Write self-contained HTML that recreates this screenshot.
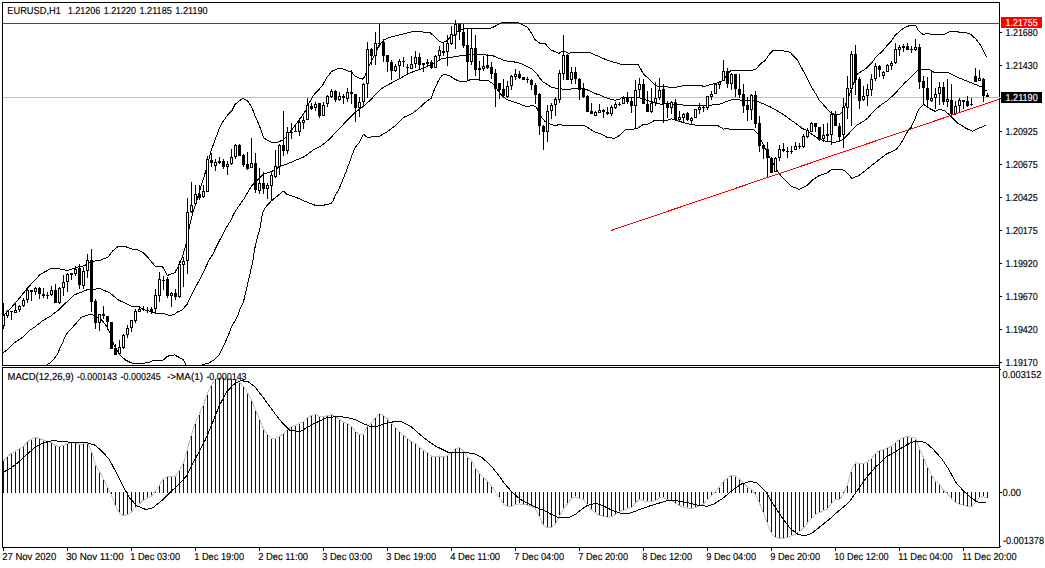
<!DOCTYPE html><html><head><meta charset="utf-8"><title>EURUSD,H1</title>
<style>html,body{margin:0;padding:0;background:#fff;overflow:hidden}svg{display:block}text{font-family:"Liberation Sans",sans-serif;font-size:10.2px;text-rendering:geometricPrecision}</style></head><body>
<svg width="1045" height="568" viewBox="0 0 1045 568" shape-rendering="crispEdges">
<rect x="0" y="0" width="1045" height="568" fill="#fff"/>
<rect x="3" y="97" width="997" height="1" fill="#c0c0c0"/>
<rect x="3" y="23" width="996" height="1" fill="#ff0000"/>
<g id="bands">
<polyline points="3.0,316.0 6.3,312.7 10.0,309.0 15.8,302.6 27.7,287.8 40.0,274.6 51.8,268.0 60.0,269.0 67.6,270.4 75.5,267.7 84.5,265.6 92.0,261.6 100.8,260.1 108.2,256.9 112.5,251.1 117.8,246.7 125.1,246.4 131.5,249.0 136.8,249.5 142.6,252.2 148.4,258.0 155.3,266.4 162.1,266.4 164.2,269.1 167.4,275.4 174.8,272.8 178.0,267.0 182.2,257.5 185.8,245.4 189.0,228.5 193.2,211.6 196.9,200.0 199.3,191.8 205.6,171.7 210.9,151.6 213.2,145.0 219.0,129.4 222.7,122.0 227.5,115.1 232.2,110.4 234.9,104.5 242.8,98.2 247.5,100.8 251.8,107.2 254.9,115.6 259.2,125.1 263.4,137.3 266.9,140.0 271.8,142.6 276.1,142.6 283.5,139.9 287.7,134.7 293.0,128.3 299.3,119.9 305.7,110.4 309.1,103.0 314.4,94.0 320.7,87.6 322.8,85.0 326.3,78.2 331.6,71.4 339.0,68.2 344.3,69.3 351.7,72.4 355.9,76.7 362.3,79.1 364.4,77.2 366.5,71.9 369.7,64.5 372.8,58.2 379.0,45.6 383.3,40.4 388.6,37.7 403.4,34.0 414.0,31.1 421.4,31.1 423.5,32.4 429.8,32.4 434.0,36.1 439.3,41.4 442.5,42.7 446.7,40.9 451.1,36.1 454.3,35.1 458.0,31.0 463.8,28.9 488.1,28.9 493.4,27.1 501.8,22.6 517.7,22.6 521.9,24.3 527.2,27.1 531.4,33.0 534.6,39.3 540.0,43.5 545.3,43.8 550.6,49.8 559.0,53.3 563.2,50.9 568.5,53.3 573.8,52.3 589.7,52.5 598.1,56.2 607.6,60.4 622.4,64.6 638.3,64.6 643.5,74.1 650.0,79.9 655.6,85.8 661.4,86.7 670.0,87.1 675.8,87.2 686.4,85.1 701.2,85.1 703.3,86.7 710.7,84.5 717.0,83.0 722.3,80.8 729.4,72.1 731.4,70.2 752.7,70.2 755.8,69.3 761.2,63.2 765.1,60.5 769.7,53.9 772.8,50.8 774.4,50.1 780.0,50.1 790.0,52.2 797.4,60.1 803.7,71.7 811.1,86.5 816.4,94.9 818.5,99.2 822.3,103.5 830.7,113.0 834.9,114.5 840.2,114.0 842.3,111.4 845.5,105.0 851.0,90.0 857.6,73.8 866.1,68.5 872.4,62.2 875.6,57.4 883.0,50.6 887.2,45.3 891.3,41.1 895.6,34.8 903.0,28.5 910.4,25.1 915.6,25.1 918.8,31.1 923.0,34.3 929.4,33.5 931.5,34.6 944.2,34.3 950.5,31.1 957.9,31.1 959.0,32.5 966.4,32.7 970.6,34.3 975.9,39.0 981.1,45.9 986.4,57.0" fill="none" stroke="#000" stroke-width="1" />
<polyline points="3.2,352.6 6.3,350.5 13.7,343.2 22.1,337.6 29.5,330.5 34.9,327.0 42.1,321.0 50.6,316.1 57.9,310.5 64.4,304.0 68.7,300.6 74.0,295.0 85.6,290.5 87.7,289.4 100.4,288.8 110.0,293.0 118.5,300.0 132.3,306.5 138.6,306.5 143.0,309.4 147.0,310.4 151.0,311.4 155.4,313.2 164.0,313.5 169.2,315.6 174.5,314.3 177.5,312.0 182.0,310.0 184.9,306.8 187.2,304.2 189.2,299.4 193.4,290.9 198.7,281.4 204.0,270.8 209.1,260.0 212.4,255.0 217.5,244.4 227.0,226.4 230.0,221.8 234.4,212.7 240.6,203.5 244.2,198.5 251.1,186.5 253.2,184.5 258.5,179.0 263.7,174.0 272.2,171.2 280.6,166.2 285.0,164.8 296.4,160.0 303.8,156.9 312.3,150.6 320.7,146.0 325.0,143.0 329.0,139.5 337.6,130.4 346.1,121.5 354.5,113.0 363.0,106.7 371.4,99.3 372.8,97.3 381.3,88.8 385.5,86.2 399.2,78.8 407.6,74.2 409.8,73.0 422.4,68.5 430.0,65.0 438.4,61.0 441.5,58.7 451.1,57.3 464.9,55.1 477.5,54.3 492.3,55.5 504.9,60.8 514.5,62.0 518.7,62.9 521.9,64.1 529.3,67.8 531.4,68.7 536.7,73.6 540.0,78.4 543.0,81.9 547.4,84.5 551.4,87.2 557.8,88.6 566.3,89.5 579.0,88.2 586.4,89.5 595.9,93.8 599.8,95.0 605.4,97.7 614.9,100.2 620.0,99.2 621.3,98.0 627.6,97.3 634.0,97.3 640.3,98.0 647.7,100.6 655.1,102.8 660.0,104.1 670.0,103.8 678.0,104.6 690.6,105.7 705.4,105.7 720.2,104.1 727.6,101.1 735.0,99.0 742.4,100.4 755.1,100.4 770.0,106.7 780.0,112.4 784.0,115.0 790.6,119.8 800.0,126.5 801.1,127.8 807.5,130.9 811.7,134.1 819.0,139.0 826.5,141.5 834.9,142.4 841.3,140.4 845.0,137.5 848.2,134.5 851.5,130.3 856.3,125.6 862.4,121.9 867.7,118.2 874.0,110.8 881.4,104.5 888.3,100.0 890.0,98.2 895.0,93.5 900.0,88.1 905.6,81.9 908.2,80.0 916.7,71.3 920.6,69.2 928.6,69.2 933.8,72.2 948.0,72.4 958.6,77.7 969.0,81.9 982.7,87.4 984.3,90.4 986.9,90.4" fill="none" stroke="#000" stroke-width="1" />
<polyline points="46.8,365.0 51.6,361.8 56.8,355.3 62.1,343.7 66.3,334.2 70.5,329.5 75.8,323.7 81.1,317.4 84.2,316.3 90.5,314.2 93.7,315.3 101.1,319.5 105.5,324.5 110.0,333.0 114.4,345.8 120.0,355.2 125.8,360.2 131.6,363.0 143.0,363.5 148.8,362.3 154.5,360.2 160.3,360.9 163.9,359.5 167.5,356.2 174.6,354.9 179.0,357.3 183.2,359.5 186.1,365.0" fill="none" stroke="#000" stroke-width="1" />
<polyline points="201.9,365.0 209.0,363.0 214.8,359.5 219.1,355.2 224.9,343.0 229.2,333.0 232.0,325.7 235.6,320.0 238.0,315.0 240.1,308.9 243.3,302.5 246.5,288.8 249.7,275.1 252.8,261.3 254.5,249.7 257.7,235.9 259.6,230.0 260.9,223.2 261.7,217.5 263.5,210.6 267.0,205.4 271.7,200.6 277.5,195.9 283.4,191.1 287.0,194.3 297.6,198.0 307.1,202.2 315.6,205.4 323.0,205.4 331.4,203.3 333.4,200.0 335.6,194.8 338.7,189.7 344.0,177.0 349.2,163.2 354.5,148.5 357.2,145.0 359.2,142.5 363.5,134.3 367.2,137.3 379.3,136.4 386.7,132.0 394.1,126.7 404.1,117.2 413.1,113.0 418.4,108.7 424.7,102.9 431.1,98.2 434.0,90.6 438.2,81.1 441.9,75.3 444.5,74.3 449.8,75.8 455.1,79.5 459.3,81.1 466.9,81.2 471.1,79.3 479.6,80.1 488.0,80.4 493.3,84.1 497.5,89.9 502.8,96.7 507.6,99.9 517.6,103.1 526.1,106.6 533.2,105.6 536.4,107.2 540.6,116.1 544.9,121.4 550.1,124.1 555.4,125.6 560.7,124.1 562.8,125.6 584.0,125.4 588.2,127.8 593.5,131.4 600.9,134.1 607.2,137.3 614.6,138.3 620.0,135.1 625.0,130.0 637.1,128.6 643.5,124.4 646.6,124.9 654.0,120.7 663.5,120.7 666.3,120.5 671.6,118.9 676.9,120.8 690.6,124.4 697.4,125.4 717.5,125.4 723.8,129.3 725.9,128.2 730.1,129.3 753.4,129.3 757.6,133.5 761.8,141.4 766.1,149.9 770.3,158.3 777.8,172.0 784.1,179.4 791.5,186.2 798.9,189.4 807.3,185.2 812.6,179.9 819.0,175.7 827.4,173.0 831.6,169.3 841.1,169.3 845.0,171.0 849.2,175.2 851.9,178.4 858.7,175.7 866.1,169.9 876.7,161.5 887.3,153.5 895.7,149.8 899.9,145.1 904.2,137.7 907.3,131.9 911.1,127.3 915.4,117.8 918.5,109.3 923.8,104.5 930.1,108.8 935.4,111.4 939.7,109.1 944.9,110.9 950.2,115.6 957.6,123.0 966.1,128.3 972.4,131.3 979.8,127.8 986.1,125.1" fill="none" stroke="#000" stroke-width="1" />
</g>
<g id="candles">
<rect x="3" y="303" width="1" height="26" fill="#000"/>
<rect x="2" y="315" width="3" height="11" fill="#000"/>
<rect x="3" y="316" width="1" height="9" fill="#fff"/>
<rect x="7" y="310" width="1" height="8" fill="#000"/>
<rect x="6" y="311" width="3" height="5" fill="#000"/>
<rect x="7" y="312" width="1" height="3" fill="#fff"/>
<rect x="11" y="311" width="1" height="9" fill="#000"/>
<rect x="10" y="311" width="3" height="1" fill="#000"/>
<rect x="15" y="302" width="1" height="11" fill="#000"/>
<rect x="14" y="310" width="3" height="3" fill="#000"/>
<rect x="15" y="311" width="1" height="1" fill="#fff"/>
<rect x="19" y="305" width="1" height="7" fill="#000"/>
<rect x="18" y="306" width="3" height="4" fill="#000"/>
<rect x="19" y="307" width="1" height="2" fill="#fff"/>
<rect x="23" y="298" width="1" height="9" fill="#000"/>
<rect x="22" y="300" width="3" height="6" fill="#000"/>
<rect x="23" y="301" width="1" height="4" fill="#fff"/>
<rect x="27" y="287" width="1" height="16" fill="#000"/>
<rect x="26" y="290" width="3" height="10" fill="#000"/>
<rect x="27" y="291" width="1" height="8" fill="#fff"/>
<rect x="31" y="290" width="1" height="11" fill="#000"/>
<rect x="30" y="290" width="3" height="2" fill="#000"/>
<rect x="35" y="287" width="1" height="8" fill="#000"/>
<rect x="34" y="288" width="3" height="4" fill="#000"/>
<rect x="35" y="289" width="1" height="2" fill="#fff"/>
<rect x="39" y="287" width="1" height="12" fill="#000"/>
<rect x="38" y="288" width="3" height="6" fill="#000"/>
<rect x="43" y="288" width="1" height="10" fill="#000"/>
<rect x="42" y="294" width="3" height="2" fill="#000"/>
<rect x="47" y="292" width="1" height="7" fill="#000"/>
<rect x="46" y="295" width="3" height="1" fill="#000"/>
<rect x="51" y="286" width="1" height="10" fill="#000"/>
<rect x="50" y="290" width="3" height="5" fill="#000"/>
<rect x="51" y="291" width="1" height="3" fill="#fff"/>
<rect x="55" y="284" width="1" height="19" fill="#000"/>
<rect x="54" y="290" width="3" height="13" fill="#000"/>
<rect x="59" y="287" width="1" height="17" fill="#000"/>
<rect x="58" y="288" width="3" height="15" fill="#000"/>
<rect x="59" y="289" width="1" height="13" fill="#fff"/>
<rect x="63" y="275" width="1" height="21" fill="#000"/>
<rect x="62" y="282" width="3" height="6" fill="#000"/>
<rect x="63" y="283" width="1" height="4" fill="#fff"/>
<rect x="67" y="273" width="1" height="19" fill="#000"/>
<rect x="66" y="274" width="3" height="8" fill="#000"/>
<rect x="67" y="275" width="1" height="6" fill="#fff"/>
<rect x="71" y="273" width="1" height="7" fill="#000"/>
<rect x="70" y="273" width="3" height="2" fill="#000"/>
<rect x="75" y="266" width="1" height="10" fill="#000"/>
<rect x="74" y="269" width="3" height="5" fill="#000"/>
<rect x="75" y="270" width="1" height="3" fill="#fff"/>
<rect x="79" y="264" width="1" height="25" fill="#000"/>
<rect x="78" y="268" width="3" height="17" fill="#000"/>
<rect x="83" y="267" width="1" height="22" fill="#000"/>
<rect x="82" y="271" width="3" height="15" fill="#000"/>
<rect x="83" y="272" width="1" height="13" fill="#fff"/>
<rect x="87" y="254" width="1" height="24" fill="#000"/>
<rect x="86" y="260" width="3" height="11" fill="#000"/>
<rect x="87" y="261" width="1" height="9" fill="#fff"/>
<rect x="91" y="249" width="1" height="63" fill="#000"/>
<rect x="90" y="260" width="3" height="42" fill="#000"/>
<rect x="95" y="299" width="1" height="30" fill="#000"/>
<rect x="94" y="301" width="3" height="22" fill="#000"/>
<rect x="99" y="314" width="1" height="17" fill="#000"/>
<rect x="98" y="314" width="3" height="9" fill="#000"/>
<rect x="99" y="315" width="1" height="7" fill="#fff"/>
<rect x="103" y="306" width="1" height="13" fill="#000"/>
<rect x="102" y="314" width="3" height="2" fill="#000"/>
<rect x="107" y="316" width="1" height="14" fill="#000"/>
<rect x="106" y="316" width="3" height="6" fill="#000"/>
<rect x="111" y="322" width="1" height="27" fill="#000"/>
<rect x="110" y="322" width="3" height="27" fill="#000"/>
<rect x="115" y="344" width="1" height="11" fill="#000"/>
<rect x="114" y="348" width="3" height="7" fill="#000"/>
<rect x="119" y="340" width="1" height="14" fill="#000"/>
<rect x="118" y="347" width="3" height="7" fill="#000"/>
<rect x="119" y="348" width="1" height="5" fill="#fff"/>
<rect x="123" y="334" width="1" height="15" fill="#000"/>
<rect x="122" y="335" width="3" height="13" fill="#000"/>
<rect x="123" y="336" width="1" height="11" fill="#fff"/>
<rect x="127" y="325" width="1" height="13" fill="#000"/>
<rect x="126" y="328" width="3" height="7" fill="#000"/>
<rect x="127" y="329" width="1" height="5" fill="#fff"/>
<rect x="131" y="320" width="1" height="12" fill="#000"/>
<rect x="130" y="320" width="3" height="8" fill="#000"/>
<rect x="131" y="321" width="1" height="6" fill="#fff"/>
<rect x="135" y="309" width="1" height="14" fill="#000"/>
<rect x="134" y="311" width="3" height="10" fill="#000"/>
<rect x="135" y="312" width="1" height="8" fill="#fff"/>
<rect x="139" y="306" width="1" height="6" fill="#000"/>
<rect x="138" y="309" width="3" height="3" fill="#000"/>
<rect x="139" y="310" width="1" height="1" fill="#fff"/>
<rect x="143" y="306" width="1" height="5" fill="#000"/>
<rect x="142" y="309" width="3" height="1" fill="#000"/>
<rect x="147" y="307" width="1" height="6" fill="#000"/>
<rect x="146" y="310" width="3" height="1" fill="#000"/>
<rect x="151" y="307" width="1" height="7" fill="#000"/>
<rect x="150" y="309" width="3" height="2" fill="#000"/>
<rect x="155" y="289" width="1" height="25" fill="#000"/>
<rect x="154" y="295" width="3" height="14" fill="#000"/>
<rect x="155" y="296" width="1" height="12" fill="#fff"/>
<rect x="159" y="272" width="1" height="30" fill="#000"/>
<rect x="158" y="279" width="3" height="17" fill="#000"/>
<rect x="159" y="280" width="1" height="15" fill="#fff"/>
<rect x="163" y="276" width="1" height="14" fill="#000"/>
<rect x="162" y="280" width="3" height="1" fill="#000"/>
<rect x="167" y="277" width="1" height="21" fill="#000"/>
<rect x="166" y="279" width="3" height="17" fill="#000"/>
<rect x="171" y="292" width="1" height="15" fill="#000"/>
<rect x="170" y="293" width="3" height="3" fill="#000"/>
<rect x="171" y="294" width="1" height="1" fill="#fff"/>
<rect x="175" y="289" width="1" height="11" fill="#000"/>
<rect x="174" y="293" width="3" height="4" fill="#000"/>
<rect x="179" y="261" width="1" height="37" fill="#000"/>
<rect x="178" y="264" width="3" height="33" fill="#000"/>
<rect x="179" y="265" width="1" height="31" fill="#fff"/>
<rect x="183" y="257" width="1" height="30" fill="#000"/>
<rect x="182" y="261" width="3" height="4" fill="#000"/>
<rect x="183" y="262" width="1" height="2" fill="#fff"/>
<rect x="187" y="198" width="1" height="76" fill="#000"/>
<rect x="186" y="212" width="3" height="49" fill="#000"/>
<rect x="187" y="213" width="1" height="47" fill="#fff"/>
<rect x="191" y="182" width="1" height="31" fill="#000"/>
<rect x="190" y="205" width="3" height="7" fill="#000"/>
<rect x="191" y="206" width="1" height="5" fill="#fff"/>
<rect x="195" y="185" width="1" height="20" fill="#000"/>
<rect x="194" y="194" width="3" height="10" fill="#000"/>
<rect x="195" y="195" width="1" height="8" fill="#fff"/>
<rect x="199" y="185" width="1" height="15" fill="#000"/>
<rect x="198" y="194" width="3" height="4" fill="#000"/>
<rect x="203" y="185" width="1" height="13" fill="#000"/>
<rect x="202" y="191" width="3" height="6" fill="#000"/>
<rect x="203" y="192" width="1" height="4" fill="#fff"/>
<rect x="207" y="156" width="1" height="36" fill="#000"/>
<rect x="206" y="159" width="3" height="33" fill="#000"/>
<rect x="207" y="160" width="1" height="31" fill="#fff"/>
<rect x="211" y="153" width="1" height="14" fill="#000"/>
<rect x="210" y="160" width="3" height="3" fill="#000"/>
<rect x="215" y="159" width="1" height="12" fill="#000"/>
<rect x="214" y="162" width="3" height="4" fill="#000"/>
<rect x="215" y="163" width="1" height="2" fill="#fff"/>
<rect x="219" y="157" width="1" height="7" fill="#000"/>
<rect x="218" y="161" width="3" height="2" fill="#000"/>
<rect x="223" y="159" width="1" height="10" fill="#000"/>
<rect x="222" y="161" width="3" height="6" fill="#000"/>
<rect x="227" y="161" width="1" height="14" fill="#000"/>
<rect x="226" y="164" width="3" height="3" fill="#000"/>
<rect x="227" y="165" width="1" height="1" fill="#fff"/>
<rect x="231" y="149" width="1" height="16" fill="#000"/>
<rect x="230" y="157" width="3" height="7" fill="#000"/>
<rect x="231" y="158" width="1" height="5" fill="#fff"/>
<rect x="235" y="144" width="1" height="15" fill="#000"/>
<rect x="234" y="145" width="3" height="12" fill="#000"/>
<rect x="235" y="146" width="1" height="10" fill="#fff"/>
<rect x="239" y="144" width="1" height="12" fill="#000"/>
<rect x="238" y="145" width="3" height="11" fill="#000"/>
<rect x="243" y="154" width="1" height="13" fill="#000"/>
<rect x="242" y="155" width="3" height="10" fill="#000"/>
<rect x="247" y="152" width="1" height="18" fill="#000"/>
<rect x="246" y="164" width="3" height="5" fill="#000"/>
<rect x="251" y="138" width="1" height="30" fill="#000"/>
<rect x="250" y="163" width="3" height="5" fill="#000"/>
<rect x="251" y="164" width="1" height="3" fill="#fff"/>
<rect x="255" y="153" width="1" height="40" fill="#000"/>
<rect x="254" y="163" width="3" height="27" fill="#000"/>
<rect x="259" y="168" width="1" height="26" fill="#000"/>
<rect x="258" y="183" width="3" height="8" fill="#000"/>
<rect x="259" y="184" width="1" height="6" fill="#fff"/>
<rect x="263" y="172" width="1" height="22" fill="#000"/>
<rect x="262" y="183" width="3" height="6" fill="#000"/>
<rect x="267" y="183" width="1" height="16" fill="#000"/>
<rect x="266" y="185" width="3" height="4" fill="#000"/>
<rect x="267" y="186" width="1" height="2" fill="#fff"/>
<rect x="271" y="171" width="1" height="30" fill="#000"/>
<rect x="270" y="175" width="3" height="11" fill="#000"/>
<rect x="271" y="176" width="1" height="9" fill="#fff"/>
<rect x="275" y="150" width="1" height="28" fill="#000"/>
<rect x="274" y="166" width="3" height="11" fill="#000"/>
<rect x="275" y="167" width="1" height="9" fill="#fff"/>
<rect x="279" y="144" width="1" height="31" fill="#000"/>
<rect x="278" y="145" width="3" height="22" fill="#000"/>
<rect x="279" y="146" width="1" height="20" fill="#fff"/>
<rect x="283" y="111" width="1" height="45" fill="#000"/>
<rect x="282" y="145" width="3" height="6" fill="#000"/>
<rect x="287" y="127" width="1" height="27" fill="#000"/>
<rect x="286" y="132" width="3" height="19" fill="#000"/>
<rect x="287" y="133" width="1" height="17" fill="#fff"/>
<rect x="291" y="123" width="1" height="16" fill="#000"/>
<rect x="290" y="132" width="3" height="1" fill="#000"/>
<rect x="295" y="125" width="1" height="7" fill="#000"/>
<rect x="294" y="131" width="3" height="1" fill="#000"/>
<rect x="299" y="118" width="1" height="18" fill="#000"/>
<rect x="298" y="122" width="3" height="10" fill="#000"/>
<rect x="299" y="123" width="1" height="8" fill="#fff"/>
<rect x="303" y="116" width="1" height="13" fill="#000"/>
<rect x="302" y="120" width="3" height="3" fill="#000"/>
<rect x="303" y="121" width="1" height="1" fill="#fff"/>
<rect x="307" y="98" width="1" height="22" fill="#000"/>
<rect x="306" y="105" width="3" height="15" fill="#000"/>
<rect x="307" y="106" width="1" height="13" fill="#fff"/>
<rect x="311" y="103" width="1" height="7" fill="#000"/>
<rect x="310" y="106" width="3" height="3" fill="#000"/>
<rect x="315" y="102" width="1" height="9" fill="#000"/>
<rect x="314" y="104" width="3" height="4" fill="#000"/>
<rect x="315" y="105" width="1" height="2" fill="#fff"/>
<rect x="319" y="103" width="1" height="15" fill="#000"/>
<rect x="318" y="103" width="3" height="13" fill="#000"/>
<rect x="323" y="102" width="1" height="14" fill="#000"/>
<rect x="322" y="105" width="3" height="11" fill="#000"/>
<rect x="323" y="106" width="1" height="9" fill="#fff"/>
<rect x="327" y="95" width="1" height="12" fill="#000"/>
<rect x="326" y="96" width="3" height="8" fill="#000"/>
<rect x="327" y="97" width="1" height="6" fill="#fff"/>
<rect x="331" y="89" width="1" height="9" fill="#000"/>
<rect x="330" y="91" width="3" height="6" fill="#000"/>
<rect x="331" y="92" width="1" height="4" fill="#fff"/>
<rect x="335" y="90" width="1" height="12" fill="#000"/>
<rect x="334" y="91" width="3" height="9" fill="#000"/>
<rect x="339" y="92" width="1" height="9" fill="#000"/>
<rect x="338" y="96" width="3" height="4" fill="#000"/>
<rect x="339" y="97" width="1" height="2" fill="#fff"/>
<rect x="343" y="94" width="1" height="10" fill="#000"/>
<rect x="342" y="96" width="3" height="2" fill="#000"/>
<rect x="347" y="88" width="1" height="14" fill="#000"/>
<rect x="346" y="92" width="3" height="7" fill="#000"/>
<rect x="347" y="93" width="1" height="5" fill="#fff"/>
<rect x="351" y="70" width="1" height="34" fill="#000"/>
<rect x="350" y="92" width="3" height="2" fill="#000"/>
<rect x="355" y="94" width="1" height="28" fill="#000"/>
<rect x="354" y="94" width="3" height="14" fill="#000"/>
<rect x="359" y="97" width="1" height="20" fill="#000"/>
<rect x="358" y="102" width="3" height="6" fill="#000"/>
<rect x="359" y="103" width="1" height="4" fill="#fff"/>
<rect x="363" y="83" width="1" height="24" fill="#000"/>
<rect x="362" y="84" width="3" height="18" fill="#000"/>
<rect x="363" y="85" width="1" height="16" fill="#fff"/>
<rect x="367" y="42" width="1" height="56" fill="#000"/>
<rect x="366" y="49" width="3" height="35" fill="#000"/>
<rect x="367" y="50" width="1" height="33" fill="#fff"/>
<rect x="371" y="48" width="1" height="17" fill="#000"/>
<rect x="370" y="49" width="3" height="7" fill="#000"/>
<rect x="375" y="32" width="1" height="33" fill="#000"/>
<rect x="374" y="43" width="3" height="13" fill="#000"/>
<rect x="375" y="44" width="1" height="11" fill="#fff"/>
<rect x="379" y="24" width="1" height="23" fill="#000"/>
<rect x="378" y="43" width="3" height="1" fill="#000"/>
<rect x="383" y="39" width="1" height="23" fill="#000"/>
<rect x="382" y="42" width="3" height="14" fill="#000"/>
<rect x="387" y="55" width="1" height="17" fill="#000"/>
<rect x="386" y="55" width="3" height="7" fill="#000"/>
<rect x="391" y="60" width="1" height="20" fill="#000"/>
<rect x="390" y="62" width="3" height="9" fill="#000"/>
<rect x="395" y="64" width="1" height="8" fill="#000"/>
<rect x="394" y="66" width="3" height="5" fill="#000"/>
<rect x="395" y="67" width="1" height="3" fill="#fff"/>
<rect x="399" y="59" width="1" height="19" fill="#000"/>
<rect x="398" y="61" width="3" height="5" fill="#000"/>
<rect x="399" y="62" width="1" height="3" fill="#fff"/>
<rect x="403" y="57" width="1" height="10" fill="#000"/>
<rect x="402" y="61" width="3" height="1" fill="#000"/>
<rect x="407" y="64" width="1" height="10" fill="#000"/>
<rect x="406" y="67" width="3" height="1" fill="#000"/>
<rect x="411" y="56" width="1" height="13" fill="#000"/>
<rect x="410" y="64" width="3" height="5" fill="#000"/>
<rect x="411" y="65" width="1" height="3" fill="#fff"/>
<rect x="415" y="51" width="1" height="17" fill="#000"/>
<rect x="414" y="57" width="3" height="7" fill="#000"/>
<rect x="415" y="58" width="1" height="5" fill="#fff"/>
<rect x="419" y="53" width="1" height="16" fill="#000"/>
<rect x="418" y="57" width="3" height="8" fill="#000"/>
<rect x="423" y="63" width="1" height="9" fill="#000"/>
<rect x="422" y="63" width="3" height="2" fill="#000"/>
<rect x="427" y="59" width="1" height="8" fill="#000"/>
<rect x="426" y="62" width="3" height="2" fill="#000"/>
<rect x="431" y="60" width="1" height="9" fill="#000"/>
<rect x="430" y="62" width="3" height="6" fill="#000"/>
<rect x="435" y="55" width="1" height="13" fill="#000"/>
<rect x="434" y="56" width="3" height="12" fill="#000"/>
<rect x="435" y="57" width="1" height="10" fill="#fff"/>
<rect x="439" y="46" width="1" height="14" fill="#000"/>
<rect x="438" y="50" width="3" height="6" fill="#000"/>
<rect x="439" y="51" width="1" height="4" fill="#fff"/>
<rect x="443" y="43" width="1" height="13" fill="#000"/>
<rect x="442" y="51" width="3" height="2" fill="#000"/>
<rect x="447" y="35" width="1" height="31" fill="#000"/>
<rect x="446" y="43" width="3" height="9" fill="#000"/>
<rect x="447" y="44" width="1" height="7" fill="#fff"/>
<rect x="451" y="26" width="1" height="19" fill="#000"/>
<rect x="450" y="34" width="3" height="10" fill="#000"/>
<rect x="451" y="35" width="1" height="8" fill="#fff"/>
<rect x="455" y="20" width="1" height="29" fill="#000"/>
<rect x="454" y="24" width="3" height="11" fill="#000"/>
<rect x="455" y="25" width="1" height="9" fill="#fff"/>
<rect x="459" y="23" width="1" height="17" fill="#000"/>
<rect x="458" y="24" width="3" height="8" fill="#000"/>
<rect x="463" y="24" width="1" height="24" fill="#000"/>
<rect x="462" y="32" width="3" height="14" fill="#000"/>
<rect x="467" y="29" width="1" height="52" fill="#000"/>
<rect x="466" y="45" width="3" height="17" fill="#000"/>
<rect x="471" y="28" width="1" height="37" fill="#000"/>
<rect x="470" y="48" width="3" height="14" fill="#000"/>
<rect x="471" y="49" width="1" height="12" fill="#fff"/>
<rect x="475" y="35" width="1" height="41" fill="#000"/>
<rect x="474" y="48" width="3" height="22" fill="#000"/>
<rect x="479" y="61" width="1" height="19" fill="#000"/>
<rect x="478" y="68" width="3" height="2" fill="#000"/>
<rect x="483" y="56" width="1" height="15" fill="#000"/>
<rect x="482" y="66" width="3" height="3" fill="#000"/>
<rect x="483" y="67" width="1" height="1" fill="#fff"/>
<rect x="487" y="54" width="1" height="15" fill="#000"/>
<rect x="486" y="65" width="3" height="3" fill="#000"/>
<rect x="491" y="62" width="1" height="17" fill="#000"/>
<rect x="490" y="67" width="3" height="7" fill="#000"/>
<rect x="495" y="69" width="1" height="38" fill="#000"/>
<rect x="494" y="73" width="3" height="16" fill="#000"/>
<rect x="499" y="83" width="1" height="16" fill="#000"/>
<rect x="498" y="83" width="3" height="7" fill="#000"/>
<rect x="503" y="79" width="1" height="18" fill="#000"/>
<rect x="502" y="89" width="3" height="7" fill="#000"/>
<rect x="507" y="81" width="1" height="17" fill="#000"/>
<rect x="506" y="86" width="3" height="11" fill="#000"/>
<rect x="507" y="87" width="1" height="9" fill="#fff"/>
<rect x="511" y="75" width="1" height="15" fill="#000"/>
<rect x="510" y="76" width="3" height="10" fill="#000"/>
<rect x="511" y="77" width="1" height="8" fill="#fff"/>
<rect x="515" y="69" width="1" height="11" fill="#000"/>
<rect x="514" y="74" width="3" height="3" fill="#000"/>
<rect x="515" y="75" width="1" height="1" fill="#fff"/>
<rect x="519" y="71" width="1" height="8" fill="#000"/>
<rect x="518" y="74" width="3" height="4" fill="#000"/>
<rect x="523" y="77" width="1" height="3" fill="#000"/>
<rect x="522" y="77" width="3" height="3" fill="#000"/>
<rect x="527" y="77" width="1" height="6" fill="#000"/>
<rect x="526" y="79" width="3" height="1" fill="#000"/>
<rect x="531" y="79" width="1" height="11" fill="#000"/>
<rect x="530" y="80" width="3" height="5" fill="#000"/>
<rect x="535" y="83" width="1" height="21" fill="#000"/>
<rect x="534" y="85" width="3" height="10" fill="#000"/>
<rect x="539" y="93" width="1" height="42" fill="#000"/>
<rect x="538" y="94" width="3" height="32" fill="#000"/>
<rect x="543" y="125" width="1" height="25" fill="#000"/>
<rect x="542" y="126" width="3" height="6" fill="#000"/>
<rect x="547" y="105" width="1" height="37" fill="#000"/>
<rect x="546" y="111" width="3" height="21" fill="#000"/>
<rect x="547" y="112" width="1" height="19" fill="#fff"/>
<rect x="551" y="103" width="1" height="16" fill="#000"/>
<rect x="550" y="105" width="3" height="6" fill="#000"/>
<rect x="551" y="106" width="1" height="4" fill="#fff"/>
<rect x="555" y="97" width="1" height="19" fill="#000"/>
<rect x="554" y="99" width="3" height="6" fill="#000"/>
<rect x="555" y="100" width="1" height="4" fill="#fff"/>
<rect x="559" y="70" width="1" height="33" fill="#000"/>
<rect x="558" y="73" width="3" height="27" fill="#000"/>
<rect x="559" y="74" width="1" height="25" fill="#fff"/>
<rect x="563" y="35" width="1" height="45" fill="#000"/>
<rect x="562" y="55" width="3" height="19" fill="#000"/>
<rect x="563" y="56" width="1" height="17" fill="#fff"/>
<rect x="567" y="54" width="1" height="26" fill="#000"/>
<rect x="566" y="55" width="3" height="25" fill="#000"/>
<rect x="571" y="67" width="1" height="17" fill="#000"/>
<rect x="570" y="72" width="3" height="8" fill="#000"/>
<rect x="571" y="73" width="1" height="6" fill="#fff"/>
<rect x="575" y="67" width="1" height="17" fill="#000"/>
<rect x="574" y="72" width="3" height="7" fill="#000"/>
<rect x="579" y="78" width="1" height="22" fill="#000"/>
<rect x="578" y="79" width="3" height="11" fill="#000"/>
<rect x="583" y="83" width="1" height="15" fill="#000"/>
<rect x="582" y="88" width="3" height="9" fill="#000"/>
<rect x="587" y="95" width="1" height="17" fill="#000"/>
<rect x="586" y="96" width="3" height="16" fill="#000"/>
<rect x="591" y="103" width="1" height="11" fill="#000"/>
<rect x="590" y="111" width="3" height="3" fill="#000"/>
<rect x="595" y="111" width="1" height="5" fill="#000"/>
<rect x="594" y="112" width="3" height="4" fill="#000"/>
<rect x="595" y="113" width="1" height="2" fill="#fff"/>
<rect x="599" y="104" width="1" height="9" fill="#000"/>
<rect x="598" y="110" width="3" height="3" fill="#000"/>
<rect x="599" y="111" width="1" height="1" fill="#fff"/>
<rect x="603" y="109" width="1" height="9" fill="#000"/>
<rect x="602" y="110" width="3" height="2" fill="#000"/>
<rect x="607" y="107" width="1" height="8" fill="#000"/>
<rect x="606" y="112" width="3" height="2" fill="#000"/>
<rect x="611" y="105" width="1" height="11" fill="#000"/>
<rect x="610" y="107" width="3" height="7" fill="#000"/>
<rect x="611" y="108" width="1" height="5" fill="#fff"/>
<rect x="615" y="102" width="1" height="7" fill="#000"/>
<rect x="614" y="104" width="3" height="4" fill="#000"/>
<rect x="615" y="105" width="1" height="2" fill="#fff"/>
<rect x="619" y="102" width="1" height="4" fill="#000"/>
<rect x="618" y="104" width="3" height="1" fill="#000"/>
<rect x="623" y="96" width="1" height="8" fill="#000"/>
<rect x="622" y="98" width="3" height="6" fill="#000"/>
<rect x="623" y="99" width="1" height="4" fill="#fff"/>
<rect x="627" y="92" width="1" height="12" fill="#000"/>
<rect x="626" y="98" width="3" height="4" fill="#000"/>
<rect x="631" y="98" width="1" height="15" fill="#000"/>
<rect x="630" y="101" width="3" height="5" fill="#000"/>
<rect x="635" y="80" width="1" height="49" fill="#000"/>
<rect x="634" y="90" width="3" height="16" fill="#000"/>
<rect x="635" y="91" width="1" height="14" fill="#fff"/>
<rect x="639" y="78" width="1" height="20" fill="#000"/>
<rect x="638" y="84" width="3" height="6" fill="#000"/>
<rect x="639" y="85" width="1" height="4" fill="#fff"/>
<rect x="643" y="79" width="1" height="25" fill="#000"/>
<rect x="642" y="84" width="3" height="20" fill="#000"/>
<rect x="647" y="91" width="1" height="21" fill="#000"/>
<rect x="646" y="104" width="3" height="8" fill="#000"/>
<rect x="651" y="88" width="1" height="25" fill="#000"/>
<rect x="650" y="103" width="3" height="9" fill="#000"/>
<rect x="651" y="104" width="1" height="7" fill="#fff"/>
<rect x="655" y="82" width="1" height="24" fill="#000"/>
<rect x="654" y="98" width="3" height="5" fill="#000"/>
<rect x="655" y="99" width="1" height="3" fill="#fff"/>
<rect x="659" y="78" width="1" height="22" fill="#000"/>
<rect x="658" y="90" width="3" height="8" fill="#000"/>
<rect x="659" y="91" width="1" height="6" fill="#fff"/>
<rect x="663" y="84" width="1" height="39" fill="#000"/>
<rect x="662" y="89" width="3" height="15" fill="#000"/>
<rect x="667" y="101" width="1" height="17" fill="#000"/>
<rect x="666" y="104" width="3" height="4" fill="#000"/>
<rect x="671" y="101" width="1" height="13" fill="#000"/>
<rect x="670" y="102" width="3" height="6" fill="#000"/>
<rect x="671" y="103" width="1" height="4" fill="#fff"/>
<rect x="675" y="99" width="1" height="21" fill="#000"/>
<rect x="674" y="102" width="3" height="18" fill="#000"/>
<rect x="679" y="111" width="1" height="10" fill="#000"/>
<rect x="678" y="117" width="3" height="3" fill="#000"/>
<rect x="679" y="118" width="1" height="1" fill="#fff"/>
<rect x="683" y="113" width="1" height="10" fill="#000"/>
<rect x="682" y="114" width="3" height="4" fill="#000"/>
<rect x="683" y="115" width="1" height="2" fill="#fff"/>
<rect x="687" y="112" width="1" height="9" fill="#000"/>
<rect x="686" y="113" width="3" height="7" fill="#000"/>
<rect x="691" y="117" width="1" height="7" fill="#000"/>
<rect x="690" y="118" width="3" height="3" fill="#000"/>
<rect x="691" y="119" width="1" height="1" fill="#fff"/>
<rect x="695" y="109" width="1" height="9" fill="#000"/>
<rect x="694" y="109" width="3" height="9" fill="#000"/>
<rect x="695" y="110" width="1" height="7" fill="#fff"/>
<rect x="699" y="103" width="1" height="11" fill="#000"/>
<rect x="698" y="107" width="3" height="3" fill="#000"/>
<rect x="699" y="108" width="1" height="1" fill="#fff"/>
<rect x="703" y="106" width="1" height="6" fill="#000"/>
<rect x="702" y="107" width="3" height="1" fill="#000"/>
<rect x="707" y="96" width="1" height="14" fill="#000"/>
<rect x="706" y="96" width="3" height="12" fill="#000"/>
<rect x="707" y="97" width="1" height="10" fill="#fff"/>
<rect x="711" y="91" width="1" height="9" fill="#000"/>
<rect x="710" y="94" width="3" height="3" fill="#000"/>
<rect x="711" y="95" width="1" height="1" fill="#fff"/>
<rect x="715" y="83" width="1" height="11" fill="#000"/>
<rect x="714" y="84" width="3" height="10" fill="#000"/>
<rect x="715" y="85" width="1" height="8" fill="#fff"/>
<rect x="719" y="81" width="1" height="8" fill="#000"/>
<rect x="718" y="82" width="3" height="3" fill="#000"/>
<rect x="719" y="83" width="1" height="1" fill="#fff"/>
<rect x="723" y="60" width="1" height="21" fill="#000"/>
<rect x="722" y="71" width="3" height="10" fill="#000"/>
<rect x="723" y="72" width="1" height="8" fill="#fff"/>
<rect x="727" y="68" width="1" height="20" fill="#000"/>
<rect x="726" y="71" width="3" height="13" fill="#000"/>
<rect x="731" y="73" width="1" height="17" fill="#000"/>
<rect x="730" y="74" width="3" height="10" fill="#000"/>
<rect x="731" y="75" width="1" height="8" fill="#fff"/>
<rect x="735" y="74" width="1" height="23" fill="#000"/>
<rect x="734" y="74" width="3" height="15" fill="#000"/>
<rect x="739" y="74" width="1" height="24" fill="#000"/>
<rect x="738" y="89" width="3" height="6" fill="#000"/>
<rect x="743" y="84" width="1" height="29" fill="#000"/>
<rect x="742" y="94" width="3" height="12" fill="#000"/>
<rect x="747" y="97" width="1" height="24" fill="#000"/>
<rect x="746" y="105" width="3" height="5" fill="#000"/>
<rect x="751" y="94" width="1" height="26" fill="#000"/>
<rect x="750" y="95" width="3" height="15" fill="#000"/>
<rect x="751" y="96" width="1" height="13" fill="#fff"/>
<rect x="755" y="91" width="1" height="37" fill="#000"/>
<rect x="754" y="95" width="3" height="29" fill="#000"/>
<rect x="759" y="116" width="1" height="36" fill="#000"/>
<rect x="758" y="123" width="3" height="23" fill="#000"/>
<rect x="763" y="145" width="1" height="14" fill="#000"/>
<rect x="762" y="145" width="3" height="4" fill="#000"/>
<rect x="767" y="142" width="1" height="35" fill="#000"/>
<rect x="766" y="149" width="3" height="9" fill="#000"/>
<rect x="771" y="157" width="1" height="16" fill="#000"/>
<rect x="770" y="158" width="3" height="15" fill="#000"/>
<rect x="775" y="157" width="1" height="15" fill="#000"/>
<rect x="774" y="158" width="3" height="14" fill="#000"/>
<rect x="775" y="159" width="1" height="12" fill="#fff"/>
<rect x="779" y="145" width="1" height="16" fill="#000"/>
<rect x="778" y="149" width="3" height="9" fill="#000"/>
<rect x="779" y="150" width="1" height="7" fill="#fff"/>
<rect x="783" y="143" width="1" height="9" fill="#000"/>
<rect x="782" y="149" width="3" height="2" fill="#000"/>
<rect x="787" y="147" width="1" height="11" fill="#000"/>
<rect x="786" y="151" width="3" height="1" fill="#000"/>
<rect x="791" y="146" width="1" height="8" fill="#000"/>
<rect x="790" y="151" width="3" height="1" fill="#000"/>
<rect x="795" y="142" width="1" height="8" fill="#000"/>
<rect x="794" y="146" width="3" height="4" fill="#000"/>
<rect x="795" y="147" width="1" height="2" fill="#fff"/>
<rect x="799" y="143" width="1" height="6" fill="#000"/>
<rect x="798" y="146" width="3" height="1" fill="#000"/>
<rect x="803" y="134" width="1" height="14" fill="#000"/>
<rect x="802" y="136" width="3" height="11" fill="#000"/>
<rect x="803" y="137" width="1" height="9" fill="#fff"/>
<rect x="807" y="128" width="1" height="10" fill="#000"/>
<rect x="806" y="130" width="3" height="7" fill="#000"/>
<rect x="807" y="131" width="1" height="5" fill="#fff"/>
<rect x="811" y="122" width="1" height="10" fill="#000"/>
<rect x="810" y="123" width="3" height="9" fill="#000"/>
<rect x="811" y="124" width="1" height="7" fill="#fff"/>
<rect x="815" y="123" width="1" height="9" fill="#000"/>
<rect x="814" y="123" width="3" height="4" fill="#000"/>
<rect x="819" y="127" width="1" height="14" fill="#000"/>
<rect x="818" y="127" width="3" height="13" fill="#000"/>
<rect x="823" y="124" width="1" height="18" fill="#000"/>
<rect x="822" y="135" width="3" height="4" fill="#000"/>
<rect x="823" y="136" width="1" height="2" fill="#fff"/>
<rect x="827" y="123" width="1" height="19" fill="#000"/>
<rect x="826" y="134" width="3" height="2" fill="#000"/>
<rect x="831" y="111" width="1" height="34" fill="#000"/>
<rect x="830" y="114" width="3" height="21" fill="#000"/>
<rect x="831" y="115" width="1" height="19" fill="#fff"/>
<rect x="835" y="111" width="1" height="15" fill="#000"/>
<rect x="834" y="114" width="3" height="12" fill="#000"/>
<rect x="839" y="123" width="1" height="19" fill="#000"/>
<rect x="838" y="126" width="3" height="11" fill="#000"/>
<rect x="843" y="98" width="1" height="50" fill="#000"/>
<rect x="842" y="107" width="3" height="28" fill="#000"/>
<rect x="843" y="108" width="1" height="26" fill="#fff"/>
<rect x="847" y="76" width="1" height="43" fill="#000"/>
<rect x="846" y="88" width="3" height="20" fill="#000"/>
<rect x="847" y="89" width="1" height="18" fill="#fff"/>
<rect x="851" y="51" width="1" height="75" fill="#000"/>
<rect x="850" y="54" width="3" height="35" fill="#000"/>
<rect x="851" y="55" width="1" height="33" fill="#fff"/>
<rect x="855" y="45" width="1" height="50" fill="#000"/>
<rect x="854" y="54" width="3" height="26" fill="#000"/>
<rect x="859" y="77" width="1" height="32" fill="#000"/>
<rect x="858" y="79" width="3" height="22" fill="#000"/>
<rect x="863" y="86" width="1" height="15" fill="#000"/>
<rect x="862" y="96" width="3" height="4" fill="#000"/>
<rect x="863" y="97" width="1" height="2" fill="#fff"/>
<rect x="867" y="84" width="1" height="22" fill="#000"/>
<rect x="866" y="89" width="3" height="7" fill="#000"/>
<rect x="867" y="90" width="1" height="5" fill="#fff"/>
<rect x="871" y="74" width="1" height="22" fill="#000"/>
<rect x="870" y="79" width="3" height="11" fill="#000"/>
<rect x="871" y="80" width="1" height="9" fill="#fff"/>
<rect x="875" y="63" width="1" height="18" fill="#000"/>
<rect x="874" y="66" width="3" height="13" fill="#000"/>
<rect x="875" y="67" width="1" height="11" fill="#fff"/>
<rect x="879" y="65" width="1" height="12" fill="#000"/>
<rect x="878" y="66" width="3" height="4" fill="#000"/>
<rect x="883" y="71" width="1" height="8" fill="#000"/>
<rect x="882" y="72" width="3" height="4" fill="#000"/>
<rect x="883" y="73" width="1" height="2" fill="#fff"/>
<rect x="887" y="64" width="1" height="8" fill="#000"/>
<rect x="886" y="65" width="3" height="7" fill="#000"/>
<rect x="887" y="66" width="1" height="5" fill="#fff"/>
<rect x="891" y="61" width="1" height="9" fill="#000"/>
<rect x="890" y="63" width="3" height="3" fill="#000"/>
<rect x="891" y="64" width="1" height="1" fill="#fff"/>
<rect x="895" y="43" width="1" height="21" fill="#000"/>
<rect x="894" y="49" width="3" height="14" fill="#000"/>
<rect x="895" y="50" width="1" height="12" fill="#fff"/>
<rect x="899" y="45" width="1" height="11" fill="#000"/>
<rect x="898" y="47" width="3" height="3" fill="#000"/>
<rect x="899" y="48" width="1" height="1" fill="#fff"/>
<rect x="903" y="44" width="1" height="8" fill="#000"/>
<rect x="902" y="46" width="3" height="2" fill="#000"/>
<rect x="907" y="43" width="1" height="7" fill="#000"/>
<rect x="906" y="46" width="3" height="4" fill="#000"/>
<rect x="911" y="46" width="1" height="7" fill="#000"/>
<rect x="910" y="49" width="3" height="1" fill="#000"/>
<rect x="915" y="39" width="1" height="12" fill="#000"/>
<rect x="914" y="47" width="3" height="3" fill="#000"/>
<rect x="915" y="48" width="1" height="1" fill="#fff"/>
<rect x="919" y="44" width="1" height="45" fill="#000"/>
<rect x="918" y="47" width="3" height="35" fill="#000"/>
<rect x="923" y="76" width="1" height="28" fill="#000"/>
<rect x="922" y="81" width="3" height="7" fill="#000"/>
<rect x="927" y="77" width="1" height="29" fill="#000"/>
<rect x="926" y="88" width="3" height="12" fill="#000"/>
<rect x="931" y="71" width="1" height="31" fill="#000"/>
<rect x="930" y="98" width="3" height="3" fill="#000"/>
<rect x="931" y="99" width="1" height="1" fill="#fff"/>
<rect x="935" y="88" width="1" height="21" fill="#000"/>
<rect x="934" y="94" width="3" height="4" fill="#000"/>
<rect x="935" y="95" width="1" height="2" fill="#fff"/>
<rect x="939" y="82" width="1" height="23" fill="#000"/>
<rect x="938" y="87" width="3" height="7" fill="#000"/>
<rect x="939" y="88" width="1" height="5" fill="#fff"/>
<rect x="943" y="82" width="1" height="23" fill="#000"/>
<rect x="942" y="87" width="3" height="15" fill="#000"/>
<rect x="947" y="79" width="1" height="28" fill="#000"/>
<rect x="946" y="99" width="3" height="3" fill="#000"/>
<rect x="947" y="100" width="1" height="1" fill="#fff"/>
<rect x="951" y="84" width="1" height="32" fill="#000"/>
<rect x="950" y="100" width="3" height="14" fill="#000"/>
<rect x="955" y="101" width="1" height="14" fill="#000"/>
<rect x="954" y="106" width="3" height="8" fill="#000"/>
<rect x="955" y="107" width="1" height="6" fill="#fff"/>
<rect x="959" y="98" width="1" height="14" fill="#000"/>
<rect x="958" y="100" width="3" height="6" fill="#000"/>
<rect x="959" y="101" width="1" height="4" fill="#fff"/>
<rect x="963" y="100" width="1" height="9" fill="#000"/>
<rect x="962" y="100" width="3" height="2" fill="#000"/>
<rect x="967" y="96" width="1" height="11" fill="#000"/>
<rect x="966" y="101" width="3" height="5" fill="#000"/>
<rect x="971" y="98" width="1" height="8" fill="#000"/>
<rect x="970" y="104" width="3" height="1" fill="#000"/>
<rect x="975" y="68" width="1" height="14" fill="#000"/>
<rect x="974" y="76" width="3" height="6" fill="#000"/>
<rect x="979" y="70" width="1" height="11" fill="#000"/>
<rect x="978" y="78" width="3" height="3" fill="#000"/>
<rect x="979" y="79" width="1" height="1" fill="#fff"/>
<rect x="983" y="78" width="1" height="24" fill="#000"/>
<rect x="982" y="79" width="3" height="17" fill="#000"/>
<rect x="987" y="93" width="1" height="4" fill="#000"/>
<rect x="986" y="95" width="3" height="2" fill="#000"/>
</g>
<line x1="611" y1="230.5" x2="999" y2="99.2" stroke="#ff0000" stroke-width="1"/>
<g id="macd">
<rect x="3" y="461" width="1" height="32" fill="#00008b"/>
<rect x="7" y="457" width="1" height="36" fill="#00008b"/>
<rect x="11" y="453" width="1" height="40" fill="#00008b"/>
<rect x="15" y="451" width="1" height="42" fill="#00008b"/>
<rect x="19" y="449" width="1" height="44" fill="#00008b"/>
<rect x="23" y="446" width="1" height="47" fill="#00008b"/>
<rect x="27" y="442" width="1" height="51" fill="#00008b"/>
<rect x="31" y="439" width="1" height="54" fill="#00008b"/>
<rect x="35" y="437" width="1" height="56" fill="#00008b"/>
<rect x="39" y="439" width="1" height="54" fill="#00008b"/>
<rect x="43" y="440" width="1" height="53" fill="#00008b"/>
<rect x="47" y="442" width="1" height="51" fill="#00008b"/>
<rect x="51" y="443" width="1" height="50" fill="#00008b"/>
<rect x="55" y="446" width="1" height="47" fill="#00008b"/>
<rect x="59" y="446" width="1" height="47" fill="#00008b"/>
<rect x="63" y="446" width="1" height="47" fill="#00008b"/>
<rect x="67" y="444" width="1" height="49" fill="#00008b"/>
<rect x="71" y="443" width="1" height="50" fill="#00008b"/>
<rect x="75" y="443" width="1" height="50" fill="#00008b"/>
<rect x="79" y="444" width="1" height="49" fill="#00008b"/>
<rect x="83" y="444" width="1" height="49" fill="#00008b"/>
<rect x="87" y="443" width="1" height="50" fill="#00008b"/>
<rect x="91" y="451" width="1" height="42" fill="#00008b"/>
<rect x="95" y="465" width="1" height="28" fill="#00008b"/>
<rect x="99" y="472" width="1" height="21" fill="#00008b"/>
<rect x="103" y="479" width="1" height="14" fill="#00008b"/>
<rect x="107" y="487" width="1" height="6" fill="#00008b"/>
<rect x="111" y="492" width="1" height="3" fill="#00008b"/>
<rect x="115" y="492" width="1" height="14" fill="#00008b"/>
<rect x="119" y="492" width="1" height="21" fill="#00008b"/>
<rect x="123" y="492" width="1" height="24" fill="#00008b"/>
<rect x="127" y="492" width="1" height="23" fill="#00008b"/>
<rect x="131" y="492" width="1" height="20" fill="#00008b"/>
<rect x="135" y="492" width="1" height="15" fill="#00008b"/>
<rect x="139" y="492" width="1" height="12" fill="#00008b"/>
<rect x="143" y="492" width="1" height="8" fill="#00008b"/>
<rect x="147" y="492" width="1" height="6" fill="#00008b"/>
<rect x="151" y="492" width="1" height="4" fill="#00008b"/>
<rect x="155" y="491" width="1" height="2" fill="#00008b"/>
<rect x="159" y="485" width="1" height="8" fill="#00008b"/>
<rect x="163" y="479" width="1" height="14" fill="#00008b"/>
<rect x="167" y="477" width="1" height="16" fill="#00008b"/>
<rect x="171" y="476" width="1" height="17" fill="#00008b"/>
<rect x="175" y="476" width="1" height="17" fill="#00008b"/>
<rect x="179" y="470" width="1" height="23" fill="#00008b"/>
<rect x="183" y="463" width="1" height="30" fill="#00008b"/>
<rect x="187" y="449" width="1" height="44" fill="#00008b"/>
<rect x="191" y="434" width="1" height="59" fill="#00008b"/>
<rect x="195" y="422" width="1" height="71" fill="#00008b"/>
<rect x="199" y="414" width="1" height="79" fill="#00008b"/>
<rect x="203" y="405" width="1" height="88" fill="#00008b"/>
<rect x="207" y="393" width="1" height="100" fill="#00008b"/>
<rect x="211" y="385" width="1" height="108" fill="#00008b"/>
<rect x="215" y="379" width="1" height="114" fill="#00008b"/>
<rect x="219" y="378" width="1" height="115" fill="#00008b"/>
<rect x="223" y="378" width="1" height="115" fill="#00008b"/>
<rect x="227" y="378" width="1" height="115" fill="#00008b"/>
<rect x="231" y="379" width="1" height="114" fill="#00008b"/>
<rect x="235" y="379" width="1" height="114" fill="#00008b"/>
<rect x="239" y="382" width="1" height="111" fill="#00008b"/>
<rect x="243" y="386" width="1" height="107" fill="#00008b"/>
<rect x="247" y="392" width="1" height="101" fill="#00008b"/>
<rect x="251" y="400" width="1" height="93" fill="#00008b"/>
<rect x="255" y="410" width="1" height="83" fill="#00008b"/>
<rect x="259" y="419" width="1" height="74" fill="#00008b"/>
<rect x="263" y="429" width="1" height="64" fill="#00008b"/>
<rect x="267" y="435" width="1" height="58" fill="#00008b"/>
<rect x="271" y="438" width="1" height="55" fill="#00008b"/>
<rect x="275" y="438" width="1" height="55" fill="#00008b"/>
<rect x="279" y="436" width="1" height="57" fill="#00008b"/>
<rect x="283" y="434" width="1" height="59" fill="#00008b"/>
<rect x="287" y="430" width="1" height="63" fill="#00008b"/>
<rect x="291" y="426" width="1" height="67" fill="#00008b"/>
<rect x="295" y="425" width="1" height="68" fill="#00008b"/>
<rect x="299" y="423" width="1" height="70" fill="#00008b"/>
<rect x="303" y="422" width="1" height="71" fill="#00008b"/>
<rect x="307" y="418" width="1" height="75" fill="#00008b"/>
<rect x="311" y="416" width="1" height="77" fill="#00008b"/>
<rect x="315" y="414" width="1" height="79" fill="#00008b"/>
<rect x="319" y="416" width="1" height="77" fill="#00008b"/>
<rect x="323" y="417" width="1" height="76" fill="#00008b"/>
<rect x="327" y="416" width="1" height="77" fill="#00008b"/>
<rect x="331" y="414" width="1" height="79" fill="#00008b"/>
<rect x="335" y="417" width="1" height="76" fill="#00008b"/>
<rect x="339" y="419" width="1" height="74" fill="#00008b"/>
<rect x="343" y="422" width="1" height="71" fill="#00008b"/>
<rect x="347" y="424" width="1" height="69" fill="#00008b"/>
<rect x="351" y="426" width="1" height="67" fill="#00008b"/>
<rect x="355" y="431" width="1" height="62" fill="#00008b"/>
<rect x="359" y="435" width="1" height="58" fill="#00008b"/>
<rect x="363" y="434" width="1" height="59" fill="#00008b"/>
<rect x="367" y="426" width="1" height="67" fill="#00008b"/>
<rect x="371" y="423" width="1" height="70" fill="#00008b"/>
<rect x="375" y="418" width="1" height="75" fill="#00008b"/>
<rect x="379" y="414" width="1" height="79" fill="#00008b"/>
<rect x="383" y="416" width="1" height="77" fill="#00008b"/>
<rect x="387" y="419" width="1" height="74" fill="#00008b"/>
<rect x="391" y="424" width="1" height="69" fill="#00008b"/>
<rect x="395" y="428" width="1" height="65" fill="#00008b"/>
<rect x="399" y="431" width="1" height="62" fill="#00008b"/>
<rect x="403" y="435" width="1" height="58" fill="#00008b"/>
<rect x="407" y="439" width="1" height="54" fill="#00008b"/>
<rect x="411" y="442" width="1" height="51" fill="#00008b"/>
<rect x="415" y="444" width="1" height="49" fill="#00008b"/>
<rect x="419" y="447" width="1" height="46" fill="#00008b"/>
<rect x="423" y="450" width="1" height="43" fill="#00008b"/>
<rect x="427" y="453" width="1" height="40" fill="#00008b"/>
<rect x="431" y="456" width="1" height="37" fill="#00008b"/>
<rect x="435" y="457" width="1" height="36" fill="#00008b"/>
<rect x="439" y="456" width="1" height="37" fill="#00008b"/>
<rect x="443" y="457" width="1" height="36" fill="#00008b"/>
<rect x="447" y="456" width="1" height="37" fill="#00008b"/>
<rect x="451" y="453" width="1" height="40" fill="#00008b"/>
<rect x="455" y="449" width="1" height="44" fill="#00008b"/>
<rect x="459" y="448" width="1" height="45" fill="#00008b"/>
<rect x="463" y="451" width="1" height="42" fill="#00008b"/>
<rect x="467" y="457" width="1" height="36" fill="#00008b"/>
<rect x="471" y="460" width="1" height="33" fill="#00008b"/>
<rect x="475" y="468" width="1" height="25" fill="#00008b"/>
<rect x="479" y="473" width="1" height="20" fill="#00008b"/>
<rect x="483" y="477" width="1" height="16" fill="#00008b"/>
<rect x="487" y="481" width="1" height="12" fill="#00008b"/>
<rect x="491" y="486" width="1" height="7" fill="#00008b"/>
<rect x="495" y="492" width="1" height="1" fill="#00008b"/>
<rect x="499" y="492" width="1" height="6" fill="#00008b"/>
<rect x="503" y="492" width="1" height="12" fill="#00008b"/>
<rect x="507" y="492" width="1" height="14" fill="#00008b"/>
<rect x="511" y="492" width="1" height="14" fill="#00008b"/>
<rect x="515" y="492" width="1" height="12" fill="#00008b"/>
<rect x="519" y="492" width="1" height="12" fill="#00008b"/>
<rect x="523" y="492" width="1" height="12" fill="#00008b"/>
<rect x="527" y="492" width="1" height="13" fill="#00008b"/>
<rect x="531" y="492" width="1" height="14" fill="#00008b"/>
<rect x="535" y="492" width="1" height="17" fill="#00008b"/>
<rect x="539" y="492" width="1" height="25" fill="#00008b"/>
<rect x="543" y="492" width="1" height="34" fill="#00008b"/>
<rect x="547" y="492" width="1" height="36" fill="#00008b"/>
<rect x="551" y="492" width="1" height="35" fill="#00008b"/>
<rect x="555" y="492" width="1" height="32" fill="#00008b"/>
<rect x="559" y="492" width="1" height="24" fill="#00008b"/>
<rect x="563" y="492" width="1" height="17" fill="#00008b"/>
<rect x="567" y="492" width="1" height="12" fill="#00008b"/>
<rect x="571" y="492" width="1" height="7" fill="#00008b"/>
<rect x="575" y="492" width="1" height="5" fill="#00008b"/>
<rect x="579" y="492" width="1" height="6" fill="#00008b"/>
<rect x="583" y="492" width="1" height="8" fill="#00008b"/>
<rect x="587" y="492" width="1" height="13" fill="#00008b"/>
<rect x="591" y="492" width="1" height="18" fill="#00008b"/>
<rect x="595" y="492" width="1" height="21" fill="#00008b"/>
<rect x="599" y="492" width="1" height="23" fill="#00008b"/>
<rect x="603" y="492" width="1" height="24" fill="#00008b"/>
<rect x="607" y="492" width="1" height="25" fill="#00008b"/>
<rect x="611" y="492" width="1" height="25" fill="#00008b"/>
<rect x="615" y="492" width="1" height="22" fill="#00008b"/>
<rect x="619" y="492" width="1" height="20" fill="#00008b"/>
<rect x="623" y="492" width="1" height="18" fill="#00008b"/>
<rect x="627" y="492" width="1" height="17" fill="#00008b"/>
<rect x="631" y="492" width="1" height="16" fill="#00008b"/>
<rect x="635" y="492" width="1" height="11" fill="#00008b"/>
<rect x="639" y="492" width="1" height="7" fill="#00008b"/>
<rect x="643" y="492" width="1" height="9" fill="#00008b"/>
<rect x="647" y="492" width="1" height="10" fill="#00008b"/>
<rect x="651" y="492" width="1" height="10" fill="#00008b"/>
<rect x="655" y="492" width="1" height="8" fill="#00008b"/>
<rect x="659" y="492" width="1" height="6" fill="#00008b"/>
<rect x="663" y="492" width="1" height="6" fill="#00008b"/>
<rect x="667" y="492" width="1" height="8" fill="#00008b"/>
<rect x="671" y="492" width="1" height="8" fill="#00008b"/>
<rect x="675" y="492" width="1" height="11" fill="#00008b"/>
<rect x="679" y="492" width="1" height="14" fill="#00008b"/>
<rect x="683" y="492" width="1" height="15" fill="#00008b"/>
<rect x="687" y="492" width="1" height="16" fill="#00008b"/>
<rect x="691" y="492" width="1" height="17" fill="#00008b"/>
<rect x="695" y="492" width="1" height="16" fill="#00008b"/>
<rect x="699" y="492" width="1" height="14" fill="#00008b"/>
<rect x="703" y="492" width="1" height="12" fill="#00008b"/>
<rect x="707" y="492" width="1" height="8" fill="#00008b"/>
<rect x="711" y="492" width="1" height="3" fill="#00008b"/>
<rect x="715" y="492" width="1" height="1" fill="#00008b"/>
<rect x="719" y="487" width="1" height="6" fill="#00008b"/>
<rect x="723" y="481" width="1" height="12" fill="#00008b"/>
<rect x="727" y="478" width="1" height="15" fill="#00008b"/>
<rect x="731" y="475" width="1" height="18" fill="#00008b"/>
<rect x="735" y="476" width="1" height="17" fill="#00008b"/>
<rect x="739" y="479" width="1" height="14" fill="#00008b"/>
<rect x="743" y="483" width="1" height="10" fill="#00008b"/>
<rect x="747" y="487" width="1" height="6" fill="#00008b"/>
<rect x="751" y="489" width="1" height="4" fill="#00008b"/>
<rect x="755" y="492" width="1" height="2" fill="#00008b"/>
<rect x="759" y="492" width="1" height="11" fill="#00008b"/>
<rect x="763" y="492" width="1" height="21" fill="#00008b"/>
<rect x="767" y="492" width="1" height="32" fill="#00008b"/>
<rect x="771" y="492" width="1" height="41" fill="#00008b"/>
<rect x="775" y="492" width="1" height="46" fill="#00008b"/>
<rect x="779" y="492" width="1" height="46" fill="#00008b"/>
<rect x="783" y="492" width="1" height="46" fill="#00008b"/>
<rect x="787" y="492" width="1" height="46" fill="#00008b"/>
<rect x="791" y="492" width="1" height="44" fill="#00008b"/>
<rect x="795" y="492" width="1" height="42" fill="#00008b"/>
<rect x="799" y="492" width="1" height="40" fill="#00008b"/>
<rect x="803" y="492" width="1" height="36" fill="#00008b"/>
<rect x="807" y="492" width="1" height="31" fill="#00008b"/>
<rect x="811" y="492" width="1" height="26" fill="#00008b"/>
<rect x="815" y="492" width="1" height="22" fill="#00008b"/>
<rect x="819" y="492" width="1" height="20" fill="#00008b"/>
<rect x="823" y="492" width="1" height="19" fill="#00008b"/>
<rect x="827" y="492" width="1" height="17" fill="#00008b"/>
<rect x="831" y="492" width="1" height="11" fill="#00008b"/>
<rect x="835" y="492" width="1" height="8" fill="#00008b"/>
<rect x="839" y="492" width="1" height="8" fill="#00008b"/>
<rect x="843" y="492" width="1" height="2" fill="#00008b"/>
<rect x="847" y="485" width="1" height="8" fill="#00008b"/>
<rect x="851" y="470" width="1" height="23" fill="#00008b"/>
<rect x="855" y="463" width="1" height="30" fill="#00008b"/>
<rect x="859" y="463" width="1" height="30" fill="#00008b"/>
<rect x="863" y="464" width="1" height="29" fill="#00008b"/>
<rect x="867" y="462" width="1" height="31" fill="#00008b"/>
<rect x="871" y="458" width="1" height="35" fill="#00008b"/>
<rect x="875" y="453" width="1" height="40" fill="#00008b"/>
<rect x="879" y="450" width="1" height="43" fill="#00008b"/>
<rect x="883" y="450" width="1" height="43" fill="#00008b"/>
<rect x="887" y="448" width="1" height="45" fill="#00008b"/>
<rect x="891" y="446" width="1" height="47" fill="#00008b"/>
<rect x="895" y="443" width="1" height="50" fill="#00008b"/>
<rect x="899" y="439" width="1" height="54" fill="#00008b"/>
<rect x="903" y="437" width="1" height="56" fill="#00008b"/>
<rect x="907" y="436" width="1" height="57" fill="#00008b"/>
<rect x="911" y="437" width="1" height="56" fill="#00008b"/>
<rect x="915" y="438" width="1" height="55" fill="#00008b"/>
<rect x="919" y="449" width="1" height="44" fill="#00008b"/>
<rect x="923" y="458" width="1" height="35" fill="#00008b"/>
<rect x="927" y="467" width="1" height="26" fill="#00008b"/>
<rect x="931" y="475" width="1" height="18" fill="#00008b"/>
<rect x="935" y="481" width="1" height="12" fill="#00008b"/>
<rect x="939" y="484" width="1" height="9" fill="#00008b"/>
<rect x="943" y="490" width="1" height="3" fill="#00008b"/>
<rect x="947" y="492" width="1" height="2" fill="#00008b"/>
<rect x="951" y="492" width="1" height="7" fill="#00008b"/>
<rect x="955" y="492" width="1" height="10" fill="#00008b"/>
<rect x="959" y="492" width="1" height="12" fill="#00008b"/>
<rect x="963" y="492" width="1" height="13" fill="#00008b"/>
<rect x="967" y="492" width="1" height="14" fill="#00008b"/>
<rect x="971" y="492" width="1" height="15" fill="#00008b"/>
<rect x="975" y="492" width="1" height="10" fill="#00008b"/>
<rect x="979" y="492" width="1" height="5" fill="#00008b"/>
<rect x="983" y="492" width="1" height="5" fill="#00008b"/>
<rect x="987" y="492" width="1" height="6" fill="#00008b"/>
<polyline points="3.5,461.1 7.5,456.7 11.5,453.2 15.5,451.0 19.5,448.8 23.5,446.1 27.5,441.7 31.5,439.1 35.5,437.3 39.5,438.7 43.5,440.0 47.5,441.7 51.5,442.6 55.5,445.8 59.5,446.1 63.5,445.8 67.5,443.5 71.5,442.6 75.5,442.6 79.5,444.4 83.5,444.0 87.5,442.6 91.5,451.4 95.5,464.6 99.5,471.7 103.5,478.7 107.5,486.6 111.5,495.4 115.5,506.0 119.5,513.0 123.5,515.7 127.5,514.8 131.5,512.1 135.5,507.3 139.5,503.8 143.5,500.2 147.5,498.0 151.5,496.3 155.5,491.0 159.5,484.9 163.5,478.7 167.5,476.9 171.5,476.4 175.5,476.4 179.5,469.9 183.5,463.3 187.5,449.2 191.5,434.3 195.5,422.5 199.5,413.7 203.5,404.9 207.5,393.4 211.5,384.6 215.5,379.3 219.5,377.9 223.5,377.9 227.5,378.4 231.5,379.0 235.5,379.3 239.5,382.0 243.5,386.4 247.5,392.5 251.5,399.6 255.5,410.1 259.5,418.9 263.5,428.6 267.5,434.8 271.5,438.3 275.5,438.3 279.5,436.0 283.5,433.9 287.5,429.5 291.5,426.5 295.5,425.1 299.5,423.3 303.5,421.8 307.5,417.8 311.5,415.5 315.5,414.3 319.5,416.5 323.5,416.7 327.5,415.8 331.5,414.4 335.5,416.7 339.5,419.4 343.5,422.0 347.5,423.8 351.5,426.4 355.5,431.3 359.5,434.9 363.5,434.3 367.5,426.4 371.5,422.9 375.5,417.6 379.5,413.7 383.5,415.5 387.5,419.0 391.5,423.8 395.5,427.8 399.5,431.3 403.5,435.2 407.5,438.7 411.5,441.9 415.5,443.7 419.5,447.2 423.5,450.2 427.5,452.8 431.5,456.0 435.5,456.7 439.5,456.0 443.5,456.8 447.5,455.6 451.5,452.6 455.5,448.7 459.5,447.7 463.5,450.8 467.5,457.0 471.5,460.5 475.5,468.1 479.5,473.4 483.5,477.3 487.5,481.1 491.5,486.1 495.5,492.0 499.5,498.0 503.5,504.0 507.5,506.3 511.5,506.3 515.5,504.5 519.5,504.0 523.5,504.5 527.5,505.1 531.5,506.3 535.5,508.9 539.5,516.9 543.5,525.7 547.5,528.0 551.5,527.4 555.5,523.9 559.5,516.3 563.5,508.9 567.5,503.7 571.5,498.7 575.5,497.0 579.5,498.4 583.5,500.0 587.5,504.7 591.5,510.1 595.5,512.8 599.5,515.1 603.5,516.3 607.5,517.2 611.5,516.8 615.5,514.5 619.5,511.9 623.5,510.1 627.5,508.7 631.5,507.5 635.5,503.1 639.5,499.2 643.5,501.0 647.5,501.7 651.5,501.7 655.5,500.5 659.5,497.5 663.5,497.8 667.5,499.6 671.5,500.5 675.5,503.1 679.5,505.7 683.5,507.0 687.5,508.0 691.5,508.7 695.5,507.5 699.5,505.7 703.5,504.0 707.5,499.6 711.5,495.2 715.5,491.5 719.5,487.0 723.5,481.0 727.5,478.1 731.5,475.2 735.5,476.0 739.5,479.0 743.5,483.1 747.5,487.1 751.5,489.3 755.5,494.5 759.5,503.3 763.5,513.0 767.5,523.6 771.5,533.3 775.5,537.7 779.5,538.2 783.5,538.2 787.5,537.7 791.5,535.9 795.5,534.1 799.5,531.5 803.5,528.3 807.5,522.7 811.5,518.3 815.5,514.3 819.5,512.5 823.5,510.7 827.5,509.0 831.5,503.3 835.5,499.8 839.5,499.5 843.5,494.0 847.5,484.9 851.5,469.9 855.5,462.8 859.5,463.4 863.5,463.5 867.5,462.0 871.5,458.5 875.5,453.2 879.5,450.5 883.5,449.6 887.5,447.9 891.5,446.1 895.5,442.6 899.5,439.4 903.5,437.3 907.5,436.4 911.5,437.3 915.5,438.2 919.5,448.8 923.5,457.6 927.5,467.3 931.5,475.2 935.5,481.0 939.5,484.0 943.5,490.1 947.5,493.7 951.5,498.9 955.5,502.5 959.5,504.2 963.5,505.1 967.5,506.3 971.5,506.9 975.5,502.5 979.5,497.2 983.5,496.8 987.5,498.1" fill="none" stroke="#c0c0c0" stroke-width="1" />
<polyline points="3.5,472.2 10.6,468.1 17.6,462.9 26.4,454.9 35.2,447.0 44.0,442.6 52.8,440.5 61.6,441.7 73.9,442.3 88.0,443.0 95.1,445.2 102.1,451.4 109.2,459.3 116.2,472.5 123.2,486.6 130.3,498.9 137.2,506.0 145.8,509.5 152.9,507.7 161.7,500.7 170.5,491.9 179.3,484.0 186.3,476.1 191.1,467.0 198.2,453.3 205.2,440.1 212.3,423.3 219.3,405.7 226.3,392.5 233.4,384.6 240.4,380.7 247.5,381.4 254.5,386.4 261.5,395.2 268.6,404.9 275.6,414.5 282.7,423.3 289.7,430.4 300.3,431.4 307.3,427.4 314.4,423.3 317.6,422.0 326.4,418.0 335.2,416.7 345.8,417.1 354.6,419.4 363.4,423.8 370.4,426.4 377.5,426.1 386.3,423.2 395.1,421.5 402.1,422.0 410.9,426.4 419.7,434.3 428.5,441.4 437.3,447.2 440.0,448.2 448.8,452.6 473.5,453.1 482.3,457.9 491.1,465.8 498.1,474.6 505.1,484.3 513.9,494.0 522.7,501.0 533.3,506.3 543.9,510.4 550.9,514.2 558.0,517.4 568.5,517.7 575.6,514.2 582.6,508.6 587.0,505.7 595.8,503.1 602.9,505.7 611.7,510.1 620.5,513.3 629.3,513.3 638.1,510.1 650.4,505.7 659.2,503.1 668.0,500.5 675.1,500.5 685.6,502.2 696.2,504.9 706.8,506.3 713.8,504.0 722.6,498.5 732.6,490.1 741.4,484.0 750.2,481.3 757.3,483.1 766.1,491.9 773.1,504.2 781.9,517.4 790.7,528.9 797.7,534.1 804.8,535.9 811.8,533.3 820.6,526.2 829.4,519.2 838.2,511.3 848.8,502.5 857.3,490.5 865.6,478.5 874.6,468.1 885.2,457.6 895.8,451.4 904.6,446.1 911.6,442.3 918.7,441.2 925.7,442.6 932.7,448.8 941.5,458.5 948.6,469.0 955.6,482.2 962.7,490.1 969.7,496.8 976.8,501.6 980.3,502.5 986.4,502.5" fill="none" stroke="#000" stroke-width="1" />
</g>
<rect x="2" y="2" width="998" height="1" fill="#000"/>
<rect x="2" y="365" width="998" height="1" fill="#000"/>
<rect x="2" y="2" width="1" height="364" fill="#000"/>
<rect x="2" y="367" width="998" height="1" fill="#000"/>
<rect x="2" y="547" width="998" height="1" fill="#000"/>
<rect x="2" y="367" width="1" height="181" fill="#000"/>
<rect x="999" y="2" width="1" height="546" fill="#000"/>
<rect x="999" y="97" width="1" height="1" fill="#c0c0c0"/>
<rect x="1000" y="32" width="2" height="1" fill="#000"/>
<text x="1005.5" y="36" fill="#000" stroke="#000" stroke-width="0.15" textLength="32.2" lengthAdjust="spacingAndGlyphs" xml:space="preserve">1.21680</text>
<rect x="1000" y="65" width="2" height="1" fill="#000"/>
<text x="1005.5" y="69" fill="#000" stroke="#000" stroke-width="0.15" textLength="32.2" lengthAdjust="spacingAndGlyphs" xml:space="preserve">1.21430</text>
<rect x="1000" y="98" width="2" height="1" fill="#000"/>
<rect x="1000" y="131" width="2" height="1" fill="#000"/>
<text x="1005.5" y="135" fill="#000" stroke="#000" stroke-width="0.15" textLength="32.2" lengthAdjust="spacingAndGlyphs" xml:space="preserve">1.20925</text>
<rect x="1000" y="164" width="2" height="1" fill="#000"/>
<text x="1005.5" y="168" fill="#000" stroke="#000" stroke-width="0.15" textLength="32.2" lengthAdjust="spacingAndGlyphs" xml:space="preserve">1.20675</text>
<rect x="1000" y="197" width="2" height="1" fill="#000"/>
<text x="1005.5" y="201" fill="#000" stroke="#000" stroke-width="0.15" textLength="32.2" lengthAdjust="spacingAndGlyphs" xml:space="preserve">1.20425</text>
<rect x="1000" y="230" width="2" height="1" fill="#000"/>
<text x="1005.5" y="234" fill="#000" stroke="#000" stroke-width="0.15" textLength="32.2" lengthAdjust="spacingAndGlyphs" xml:space="preserve">1.20175</text>
<rect x="1000" y="263" width="2" height="1" fill="#000"/>
<text x="1005.5" y="267" fill="#000" stroke="#000" stroke-width="0.15" textLength="32.2" lengthAdjust="spacingAndGlyphs" xml:space="preserve">1.19920</text>
<rect x="1000" y="296" width="2" height="1" fill="#000"/>
<text x="1005.5" y="300" fill="#000" stroke="#000" stroke-width="0.15" textLength="32.2" lengthAdjust="spacingAndGlyphs" xml:space="preserve">1.19670</text>
<rect x="1000" y="329" width="2" height="1" fill="#000"/>
<text x="1005.5" y="333" fill="#000" stroke="#000" stroke-width="0.15" textLength="32.2" lengthAdjust="spacingAndGlyphs" xml:space="preserve">1.19420</text>
<rect x="1000" y="362" width="2" height="1" fill="#000"/>
<text x="1005.5" y="366" fill="#000" stroke="#000" stroke-width="0.15" textLength="32.2" lengthAdjust="spacingAndGlyphs" xml:space="preserve">1.19170</text>
<rect x="1001" y="17" width="41" height="11" fill="#ff0000"/>
<text x="1005.5" y="26" fill="#fff" stroke="#fff" stroke-width="0.15" textLength="32.2" lengthAdjust="spacingAndGlyphs" xml:space="preserve">1.21755</text>
<rect x="1001" y="92" width="41" height="11" fill="#000"/>
<text x="1005.5" y="101" fill="#fff" stroke="#fff" stroke-width="0.15" textLength="32.2" lengthAdjust="spacingAndGlyphs" xml:space="preserve">1.21190</text>
<rect x="1000" y="369" width="1" height="1" fill="#000"/>
<text x="1002.6" y="378" fill="#000" stroke="#000" stroke-width="0.15" textLength="38.8" lengthAdjust="spacingAndGlyphs" xml:space="preserve">0.003152</text>
<rect x="1000" y="492" width="2" height="1" fill="#000"/>
<text x="1002.6" y="496" fill="#000" stroke="#000" stroke-width="0.15" textLength="18.5" lengthAdjust="spacingAndGlyphs" xml:space="preserve">0.00</text>
<rect x="1000" y="546" width="1" height="1" fill="#000"/>
<text x="1003" y="544" fill="#000" stroke="#000" stroke-width="0.15" textLength="41" lengthAdjust="spacingAndGlyphs" xml:space="preserve">-0.001378</text>
<text x="7.3" y="14" fill="#000" stroke="#000" stroke-width="0.15" textLength="53.5" lengthAdjust="spacingAndGlyphs" xml:space="preserve">EURUSD,H1</text>
<text x="67.9" y="14" fill="#000" stroke="#000" stroke-width="0.15" textLength="32.3" lengthAdjust="spacingAndGlyphs" xml:space="preserve">1.21206</text>
<text x="103.7" y="14" fill="#000" stroke="#000" stroke-width="0.15" textLength="32.3" lengthAdjust="spacingAndGlyphs" xml:space="preserve">1.21220</text>
<text x="139.5" y="14" fill="#000" stroke="#000" stroke-width="0.15" textLength="32.3" lengthAdjust="spacingAndGlyphs" xml:space="preserve">1.21185</text>
<text x="175.3" y="14" fill="#000" stroke="#000" stroke-width="0.15" textLength="32.3" lengthAdjust="spacingAndGlyphs" xml:space="preserve">1.21190</text>
<text x="7.6" y="380" fill="#000" stroke="#000" stroke-width="0.15" textLength="66" lengthAdjust="spacingAndGlyphs" xml:space="preserve">MACD(12,26,9)</text>
<text x="77" y="380" fill="#000" stroke="#000" stroke-width="0.15" textLength="39.8" lengthAdjust="spacingAndGlyphs" xml:space="preserve">-0.000143</text>
<text x="120.6" y="380" fill="#000" stroke="#000" stroke-width="0.15" textLength="40.2" lengthAdjust="spacingAndGlyphs" xml:space="preserve">-0.000245</text>
<text x="167" y="380" fill="#000" stroke="#000" stroke-width="0.15" textLength="36" lengthAdjust="spacingAndGlyphs" xml:space="preserve">-&gt;MA(1)</text>
<text x="206.4" y="380" fill="#000" stroke="#000" stroke-width="0.15" textLength="40.2" lengthAdjust="spacingAndGlyphs" xml:space="preserve">-0.000143</text>
<rect x="3" y="548" width="1" height="3" fill="#000"/>
<text x="2.2" y="560" fill="#000" stroke="#000" stroke-width="0.15" textLength="54" lengthAdjust="spacingAndGlyphs" xml:space="preserve">27 Nov 2020</text>
<rect x="67" y="548" width="1" height="3" fill="#000"/>
<text x="66.2" y="560" fill="#000" stroke="#000" stroke-width="0.15" textLength="57.4" lengthAdjust="spacingAndGlyphs" xml:space="preserve">30 Nov 11:00</text>
<rect x="131" y="548" width="1" height="3" fill="#000"/>
<text x="130.2" y="560" fill="#000" stroke="#000" stroke-width="0.15" textLength="49.9" lengthAdjust="spacingAndGlyphs" xml:space="preserve">1 Dec 03:00</text>
<rect x="195" y="548" width="1" height="3" fill="#000"/>
<text x="194.2" y="560" fill="#000" stroke="#000" stroke-width="0.15" textLength="49.9" lengthAdjust="spacingAndGlyphs" xml:space="preserve">1 Dec 19:00</text>
<rect x="259" y="548" width="1" height="3" fill="#000"/>
<text x="258.2" y="560" fill="#000" stroke="#000" stroke-width="0.15" textLength="49.9" lengthAdjust="spacingAndGlyphs" xml:space="preserve">2 Dec 11:00</text>
<rect x="323" y="548" width="1" height="3" fill="#000"/>
<text x="322.2" y="560" fill="#000" stroke="#000" stroke-width="0.15" textLength="49.9" lengthAdjust="spacingAndGlyphs" xml:space="preserve">3 Dec 03:00</text>
<rect x="387" y="548" width="1" height="3" fill="#000"/>
<text x="386.2" y="560" fill="#000" stroke="#000" stroke-width="0.15" textLength="49.9" lengthAdjust="spacingAndGlyphs" xml:space="preserve">3 Dec 19:00</text>
<rect x="451" y="548" width="1" height="3" fill="#000"/>
<text x="450.2" y="560" fill="#000" stroke="#000" stroke-width="0.15" textLength="49.9" lengthAdjust="spacingAndGlyphs" xml:space="preserve">4 Dec 11:00</text>
<rect x="515" y="548" width="1" height="3" fill="#000"/>
<text x="514.2" y="560" fill="#000" stroke="#000" stroke-width="0.15" textLength="49.9" lengthAdjust="spacingAndGlyphs" xml:space="preserve">7 Dec 04:00</text>
<rect x="579" y="548" width="1" height="3" fill="#000"/>
<text x="578.2" y="560" fill="#000" stroke="#000" stroke-width="0.15" textLength="49.9" lengthAdjust="spacingAndGlyphs" xml:space="preserve">7 Dec 20:00</text>
<rect x="643" y="548" width="1" height="3" fill="#000"/>
<text x="642.2" y="560" fill="#000" stroke="#000" stroke-width="0.15" textLength="49.9" lengthAdjust="spacingAndGlyphs" xml:space="preserve">8 Dec 12:00</text>
<rect x="707" y="548" width="1" height="3" fill="#000"/>
<text x="706.2" y="560" fill="#000" stroke="#000" stroke-width="0.15" textLength="49.9" lengthAdjust="spacingAndGlyphs" xml:space="preserve">9 Dec 04:00</text>
<rect x="771" y="548" width="1" height="3" fill="#000"/>
<text x="770.2" y="560" fill="#000" stroke="#000" stroke-width="0.15" textLength="49.9" lengthAdjust="spacingAndGlyphs" xml:space="preserve">9 Dec 20:00</text>
<rect x="835" y="548" width="1" height="3" fill="#000"/>
<text x="834.2" y="560" fill="#000" stroke="#000" stroke-width="0.15" textLength="54.4" lengthAdjust="spacingAndGlyphs" xml:space="preserve">10 Dec 12:00</text>
<rect x="899" y="548" width="1" height="3" fill="#000"/>
<text x="898.2" y="560" fill="#000" stroke="#000" stroke-width="0.15" textLength="54.4" lengthAdjust="spacingAndGlyphs" xml:space="preserve">11 Dec 04:00</text>
<rect x="963" y="548" width="1" height="3" fill="#000"/>
<text x="962.2" y="560" fill="#000" stroke="#000" stroke-width="0.15" textLength="54.4" lengthAdjust="spacingAndGlyphs" xml:space="preserve">11 Dec 20:00</text>
</svg></body></html>
